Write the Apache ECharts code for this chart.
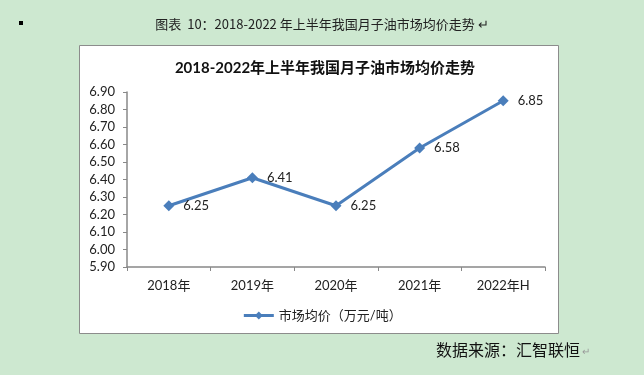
<!DOCTYPE html>
<html><head><meta charset="utf-8">
<script src="https://cdn.jsdelivr.net/npm/echarts@6/dist/echarts.min.js"></script>
<style>html,body{margin:0;padding:0;background:#cde8d0;}#c{width:644px;height:375px;}</style>
</head><body><div id="c"></div>
<script>
const categories = ['2018年','2019年','2020年','2021年','2022年H'];
const prices = [6.25, 6.41, 6.25, 6.58, 6.85];
const seriesName = '市场均价（万元/吨）';
const chartTitle = '2018-2022年上半年我国月子油市场均价走势';
const figureTitle = '图表  10：2018-2022 年上半年我国月子油市场均价走势';
const sourceText = '数据来源：汇智联恒';

const FF = 'Lato, "Noto Sans CJK SC", sans-serif';
const chart = echarts.init(document.getElementById('c'));
chart.setOption({
  backgroundColor: '#cde8d0',
  animation: false,
  graphic: [
    {type:'rect', shape:{x:79.5,y:45.5,width:479,height:288}, style:{fill:'#fff',stroke:'#8c8c8c',lineWidth:1}, z:-10},
    {type:'rect', shape:{x:19,y:21,width:4,height:4}, style:{fill:'#000'}},
    {type:'text', x:322, y:24, style:{text:figureTitle+' ↵', font:'13px "Noto Sans CJK SC", sans-serif', fill:'#222', align:'center', verticalAlign:'middle'}},
    {type:'text', x:436, y:350, style:{text:sourceText, font:'16px "Noto Sans CJK SC", sans-serif', fill:'#111', align:'left', verticalAlign:'middle'}},
    {type:'text', x:582, y:352, style:{text:'↵', font:'10px sans-serif', fill:'#999', align:'left', verticalAlign:'middle'}}
  ],
  title: {
    text: chartTitle, left: 320, top: 56, textAlign: 'center',
    textStyle: {fontFamily: FF, fontSize: 15, fontWeight: 'bold', color: '#111'}
  },
  legend: {
    data: [seriesName], left: 'center', top: 304, itemWidth: 30, itemHeight: 10,
    lineStyle: {width: 3},
    textStyle: {fontFamily: FF, fontSize: 13, color: '#222'}
  },
  grid: {left: 127, right: 99, top: 92, bottom: 108},
  xAxis: {
    type: 'category', data: categories, boundaryGap: true,
    axisLine: {lineStyle: {color: '#888', width: 1.5}},
    axisTick: {show: true, alignWithLabel: false, length: 4, lineStyle: {color: '#888'}},
    axisLabel: {fontFamily: FF, fontSize: 13, color: '#222', margin: 12}
  },
  yAxis: {
    type: 'value', min: 5.9, max: 6.9, interval: 0.1,
    axisLine: {show: true, lineStyle: {color: '#888', width: 1.5}},
    axisTick: {show: true, length: 4, lineStyle: {color: '#888'}},
    splitLine: {show: false},
    axisLabel: {fontFamily: FF, fontSize: 13, color: '#222', margin: 12, formatter: v => v.toFixed(2)}
  },
  series: [{
    name: seriesName, type: 'line', data: prices,
    symbol: 'diamond', symbolSize: 11,
    lineStyle: {color: '#4a7ebb', width: 3},
    itemStyle: {color: '#4a7ebb'},
    label: {show: true, position: 'right', distance: 9, fontFamily: FF, fontSize: 13, color: '#222', formatter: p => p.value.toFixed(2)}
  }]
});
</script></body></html>
